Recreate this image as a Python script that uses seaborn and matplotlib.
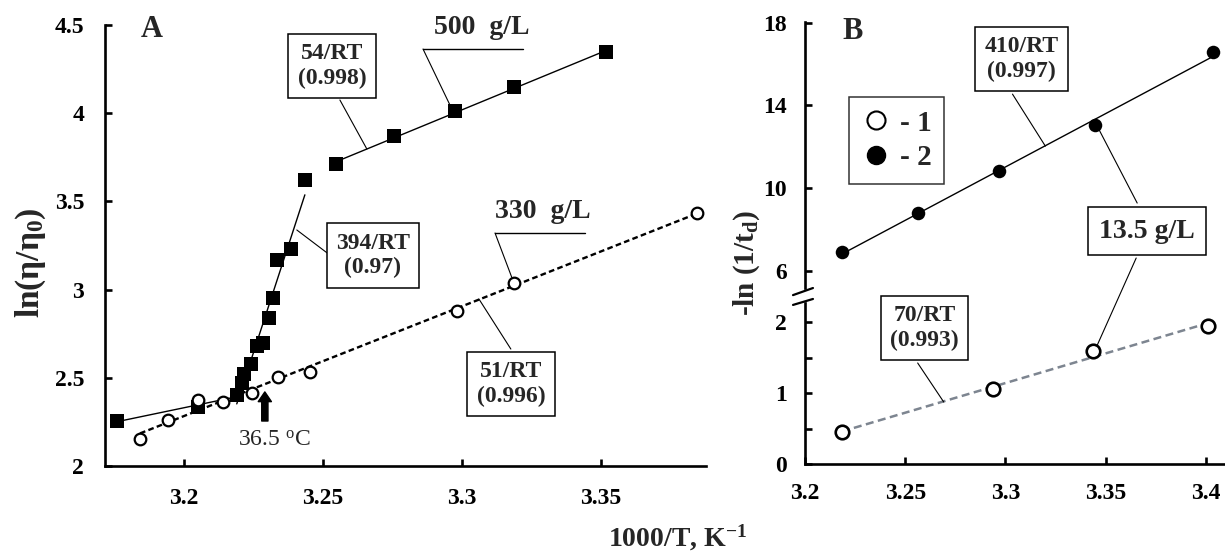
import numpy as np
import pandas as pd
import matplotlib
matplotlib.use("Agg")
import matplotlib.pyplot as plt
from matplotlib.lines import Line2D
from matplotlib.patches import ConnectionPatch
import seaborn as sns

# Panel A: 500 g/L, three linear regions (squares)
x500_low = [3.176, 3.2051, 3.219]
y500_low = [2.255, 2.336, 2.40]
x500_mid = [3.2208, 3.2215, 3.224, 3.2262, 3.2285, 3.2307, 3.2321, 3.2336, 3.2384, 3.2435]
y500_mid = [2.47, 2.52, 2.58, 2.68, 2.70, 2.84, 2.95, 3.17, 3.23, 3.62]
x500_high = [3.2546, 3.2757, 3.2975, 3.3187, 3.352]
y500_high = [3.71, 3.87, 4.01, 4.15, 4.345]

# Panel A: 330 g/L (open circles)
x330 = [3.1842, 3.1941, 3.2049, 3.2141, 3.2244, 3.2339, 3.2453, 3.2983, 3.3188, 3.3844]
y330 = [2.151, 2.26, 2.374, 2.365, 2.416, 2.506, 2.535, 2.879, 3.039, 3.432]

# Panel B: 13.5 g/L
xB2 = [3.2184, 3.2562, 3.297, 3.3448, 3.4035]
yB2 = [6.93, 8.81, 10.84, 13.06, 16.57]
xB1 = [3.2184, 3.294, 3.3438, 3.401]
yB1 = [0.45, 1.06, 1.59, 1.94]

ticksA_x = [3.2, 3.25, 3.3, 3.35]
ticksA_y = [2, 2.5, 3, 3.5, 4, 4.5]
ticksB_x = [3.2, 3.25, 3.3, 3.35, 3.4]

sns.set_style("ticks")
plt.rcParams['font.family'] = ['Liberation Serif', 'DejaVu Serif']
plt.rcParams['font.weight'] = 'bold'
plt.rcParams['mathtext.default'] = 'regular'

W, H = 1225, 552
fig = plt.figure(figsize=(W / 100, H / 100), dpi=100)


def rect(l, t, r, b):
    return [l / W, 1 - b / H, (r - l) / W, (b - t) / H]


def style_axis(ax, pad_x=17, pad_y=14):
    for s in ['top', 'right']:
        ax.spines[s].set_visible(False)
    for s in ['left', 'bottom']:
        ax.spines[s].set_linewidth(1.9)
        ax.spines[s].set_color('black')
    ax.tick_params(direction='in', length=5, width=1.9, labelsize=17, colors='black')
    ax.tick_params(axis='x', pad=pad_x)
    ax.tick_params(axis='y', pad=pad_y)
    ax.set_xlabel('')
    ax.set_ylabel('')


box = dict(boxstyle='square,pad=0.4', fc='white', ec='black', lw=1.1)

# ---------------- Panel A ----------------
axA = fig.add_axes(rect(105, 25, 706, 466))

df_low = pd.DataFrame({'x': x500_low, 'y': y500_low})
df_mid = pd.DataFrame({'x': x500_low[-1:] + x500_mid, 'y': y500_low[-1:] + y500_mid})
df_high = pd.DataFrame({'x': x500_high, 'y': y500_high})
df500 = pd.DataFrame({'x': x500_low + x500_mid + x500_high, 'y': y500_low + y500_mid + y500_high})
df330 = pd.DataFrame({'x': x330, 'y': y330})

for d in [df_low, df_mid, df_high]:
    sns.regplot(data=d, x='x', y='y', ax=axA, scatter=False, ci=None,
                line_kws=dict(color='black', lw=1.0))
sns.regplot(data=df330, x='x', y='y', ax=axA, scatter=False, ci=None,
            line_kws=dict(color='black', lw=1.7, ls=(0, (2.4, 1.4))))
sns.scatterplot(data=df500, x='x', y='y', ax=axA, marker='s', s=100,
                color='black', edgecolor='black', linewidth=0, zorder=4)
sns.scatterplot(data=df330, x='x', y='y', ax=axA, marker='o', s=70,
                facecolor='white', edgecolor='black', linewidth=1.6, zorder=4)

axA.set_xlim(3.1716, 3.3878)
axA.set_ylim(2, 4.5)
axA.set_xticks(ticksA_x)
axA.set_xticklabels(['3.2', '3.25', '3.3', '3.35'])
axA.set_yticks(ticksA_y)
axA.set_yticklabels(['2', '2.5', '3', '3.5', '4', '4.5'])
style_axis(axA, pad_x=16, pad_y=15)
axA.text(3.1885, 4.475, 'A', fontsize=22, ha='center', va='center')
axA.text(-0.123, 0.46, r'ln($\eta/\eta_0$)', transform=axA.transAxes, rotation=90,
         fontsize=24, ha='center', va='center')

# annotations panel A
axA.text(3.2532, 4.268, '54/RT\n(0.998)', fontsize=17, ha='center', va='center',
         bbox=box, zorder=5, linespacing=1.2)
axA.plot([3.2561, 3.2658], [4.075, 3.797], color='black', lw=0.8)
axA.text(3.2680, 3.193, '394/RT\n(0.97)', fontsize=17, ha='center', va='center',
         bbox=box, zorder=5, linespacing=1.2)
axA.plot([3.2406, 3.2525], [3.338, 3.196], color='black', lw=0.8)
axA.text(3.3072, 4.483, '500  g/L', fontsize=20, ha='center', va='center')
axA.plot([3.286, 3.3219], [4.364, 4.364], color='black', lw=1.0)
axA.plot([3.286, 3.2957], [4.364, 4.046], color='black', lw=0.8)
axA.text(3.3291, 3.44, '330  g/L', fontsize=20, ha='center', va='center')
axA.plot([3.3119, 3.3442], [3.321, 3.321], color='black', lw=1.0)
axA.plot([3.3119, 3.3183], [3.321, 3.054], color='black', lw=0.8)
axA.text(3.3176, 2.465, '51/RT\n(0.996)', fontsize=17, ha='center', va='center',
         bbox=box, zorder=5, linespacing=1.2)
axA.plot([3.3061, 3.3176], [2.947, 2.663], color='black', lw=0.8)
axA.text(3.2327, 2.147, r'36.5 $^{o}$C', fontsize=17, fontweight='normal',
         ha='center', va='center')
axA.annotate('', xy=(3.2291, 2.42), xytext=(3.2291, 2.255),
             arrowprops=dict(facecolor='black', edgecolor='black', width=4.5,
                             headwidth=9.5, headlength=7, shrink=0))

# ---------------- Panel B ----------------
axBu = fig.add_axes(rect(805, 21.5, 1224, 288))
axBl = fig.add_axes(rect(805, 303, 1224, 464))

dfB2 = pd.DataFrame({'x': xB2, 'y': yB2})
dfB1 = pd.DataFrame({'x': xB1, 'y': yB1})

sns.regplot(data=dfB2, x='x', y='y', ax=axBu, scatter=False, ci=None,
            line_kws=dict(color='black', lw=1.0))
sns.scatterplot(data=dfB2, x='x', y='y', ax=axBu, marker='o', s=95,
                color='black', edgecolor='black', linewidth=0, zorder=4)
sns.regplot(data=dfB1, x='x', y='y', ax=axBl, scatter=False, ci=None,
            line_kws=dict(color='#7d8590', lw=1.8, ls=(0, (3.2, 1.8))))
sns.scatterplot(data=dfB1, x='x', y='y', ax=axBl, marker='o', s=95,
                facecolor='white', edgecolor='black', linewidth=1.9, zorder=4)

for ax in [axBu, axBl]:
    ax.set_xlim(3.2, 3.409)
axBu.set_ylim(5.2, 18.05)
axBl.set_ylim(0, 2.268)
axBu.set_yticks([6, 10, 14, 18])
axBu.set_yticklabels(['6', '10', '14', '18'])
axBl.set_yticks([0, 0.5, 1, 1.5, 2])
axBl.set_yticklabels(['0', '', '1', '', '2'])
axBl.set_xticks(ticksB_x)
axBl.set_xticklabels(['3.2', '3.25', '3.3', '3.35', '3.4'])
style_axis(axBu, pad_y=13)
style_axis(axBl, pad_x=14, pad_y=13)
axBu.spines['bottom'].set_visible(False)
axBu.set_xticks([])

# axis break marks
for yb in [(1.049, 1.093), (0.988, 1.025)]:
    axBl.plot([-0.0286, 0.019], yb, color='black', lw=1.6,
              transform=axBl.transAxes, clip_on=False)

axBu.text(3.2239, 17.55, 'B', fontsize=22, ha='center', va='center')
axBu.text(3.308, 16.236, '410/RT\n(0.997)', fontsize=17, ha='center', va='center',
          bbox=box, zorder=5, linespacing=1.2)
axBu.plot([3.3035, 3.3199], [14.548, 12.04], color='black', lw=0.8)
axBu.text(3.3706, 7.947, '13.5 g/L', fontsize=20, ha='center', va='center',
          bbox=dict(boxstyle='square,pad=0.4', fc='white', ec='black', lw=1.1), zorder=5)
axBu.plot([3.3657, 3.3468], [9.296, 12.81], color='black', lw=0.8)
con = ConnectionPatch(xyA=(3.3652, 6.646), coordsA=axBu.transData,
                      xyB=(3.3458, 1.676), coordsB=axBl.transData,
                      color='black', lw=0.8)
fig.add_artist(con)
axBl.text(3.2597, 1.915, '70/RT\n(0.993)', fontsize=17, ha='center', va='center',
          bbox=box, zorder=5, linespacing=1.2)
axBl.plot([3.2562, 3.2692], [1.423, 0.873], color='black', lw=0.8)

handles = [Line2D([], [], ls='none', marker='o', ms=13, mfc='white', mec='black', mew=1.5),
           Line2D([], [], ls='none', marker='o', ms=13, mfc='black', mec='black')]
leg = axBu.legend(handles, ['- 1', '- 2'], loc='upper left',
                  bbox_to_anchor=(834 / W, 1 - 82 / H), bbox_transform=fig.transFigure,
                  fontsize=21, frameon=True, fancybox=False, handlelength=1.0,
                  handletextpad=0.3, borderpad=0.45, labelspacing=0.25)
leg.get_frame().set_edgecolor('black')
leg.get_frame().set_linewidth(1.1)

fig.text(747 / W, 1 - 263 / H, r'-ln (1/t$_d$)', rotation=90, fontsize=21,
         ha='center', va='center')
fig.text(678 / W, 1 - 538 / H, r'1000/T, K$^{-1}$', fontsize=20,
         ha='center', va='center')

fig.savefig('out.png', dpi=100)
